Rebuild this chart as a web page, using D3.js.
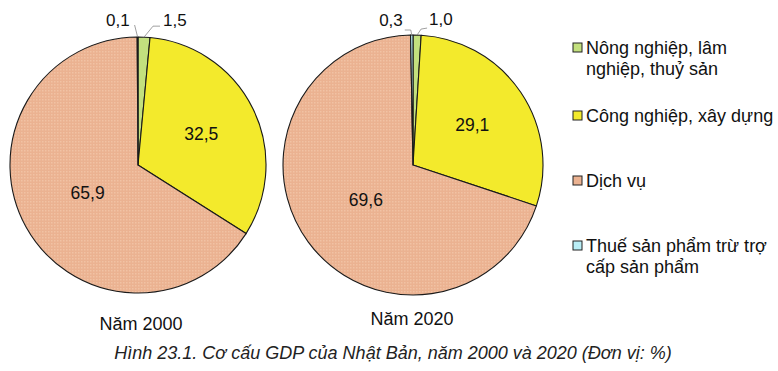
<!DOCTYPE html>
<html>
<head>
<meta charset="utf-8">
<script src="https://cdn.jsdelivr.net/npm/d3@7"></script>
<style>
  body { margin: 0; background: #fff; }
  svg { display: block; font-family: "Liberation Sans", Arial, sans-serif; }
</style>
</head>
<body>
<div id="chart"></div>
<script>
const categories = [
  ["Nông nghiệp, lâm", "nghiệp, thuỷ sản"],
  ["Công nghiệp, xây dựng"],
  ["Dịch vụ"],
  ["Thuế sản phẩm trừ trợ", "cấp sản phẩm"]
];
const years = ["Năm 2000", "Năm 2020"];
const values2000 = [1.5, 32.5, 65.9, 0.1];
const values2020 = [1.0, 29.1, 69.6, 0.3];
const caption = "Hình 23.1. Cơ cấu GDP của Nhật Bản, năm 2000 và 2020 (Đơn vị: %)";

const colors = ["#c3e07e", "#f3ea2c", "#ebb291", "#b9eef6"];
const fmt = v => d3.format(".1f")(v).replace(".", ",");

const width = 778, height = 371;

const svg = d3.select("#chart")
  .append("svg")
  .attr("width", width)
  .attr("height", height);

// halftone texture on the service slice
const defs = svg.append("defs");
const pat = defs.append("pattern")
  .attr("id", "dots")
  .attr("width", 3)
  .attr("height", 3)
  .attr("patternUnits", "userSpaceOnUse");
pat.append("rect").attr("width", 3).attr("height", 3).attr("fill", colors[2]);
pat.append("rect").attr("width", 1.5).attr("height", 1.5).attr("fill", "#f1c2a4");

const charts = [
  { values: values2000, cx: 138, cy: 165, r: 128, titleX: 141, titleY: 330 },
  { values: values2020, cx: 413, cy: 165, r: 130, titleX: 412, titleY: 325 }
];

const pie = d3.pie().sort(null).value(d => d);

charts.forEach((c, ci) => {
  const g = svg.append("g").attr("transform", `translate(${c.cx},${c.cy})`);
  const arcs = pie(c.values);
  const arc = d3.arc().innerRadius(0).outerRadius(c.r);

  g.selectAll("path")
    .data(arcs)
    .enter().append("path")
    .attr("d", arc)
    .attr("fill", (d, i) => i === 2 ? "url(#dots)" : colors[i])
    .attr("stroke", "#1a1a1a")
    .attr("stroke-width", 1.1)
    .attr("stroke-linejoin", "round");

  // big slice labels (the big slice gets its label nearer the centre)
  const labelPos = d => {
    const k = d.index === 2 ? 0.45 : 0.55;
    return d3.arc().innerRadius(c.r * k).outerRadius(c.r * k).centroid(d);
  };
  g.selectAll(".inner")
    .data(arcs.filter(d => d.value > 10))
    .enter().append("text")
    .attr("class", "inner")
    .attr("x", d => labelPos(d)[0])
    .attr("y", d => labelPos(d)[1])
    .attr("dy", "0.35em")
    .attr("text-anchor", "middle")
    .style("font-size", "17.5px")
    .style("fill", "#111")
    .text(d => fmt(d.value));

  // small slice labels with leader lines
  const green = arcs[0], blue = arcs[3];
  const edge = (a) => [Math.sin(a) * c.r, -Math.cos(a) * c.r];
  const gp = edge((green.startAngle + green.endAngle) / 2);
  const bp = edge((blue.startAngle + blue.endAngle) / 2);

  const line = d3.line();
  const leaders = ci === 0
    ? [
        { pts: [bp, [bp[0] - 3, bp[1] - 12]], tx: bp[0] - 8, ty: -c.r - 11, anchor: "end", v: blue.value },
        { pts: [gp, [gp[0] + 9, gp[1] - 11], [gp[0] + 16, gp[1] - 11]], tx: gp[0] + 19, ty: -c.r - 11, anchor: "start", v: green.value }
      ]
    : [
        { pts: [bp, [bp[0] - 1, bp[1] - 5], [bp[0] - 7, bp[1] - 5]], tx: bp[0] - 9, ty: -c.r - 9, anchor: "end", v: blue.value },
        { pts: [gp, [gp[0] + 4, gp[1] - 6], [gp[0] + 10, gp[1] - 7]], tx: gp[0] + 12, ty: -c.r - 10, anchor: "start", v: green.value }
      ];

  leaders.forEach(l => {
    g.append("path")
      .attr("d", line(l.pts))
      .attr("fill", "none")
      .attr("stroke", "#888")
      .attr("stroke-width", 0.8);
    g.append("text")
      .attr("x", l.tx)
      .attr("y", l.ty)
      .attr("text-anchor", l.anchor)
      .style("font-size", "17px")
      .style("fill", "#111")
      .text(fmt(l.v));
  });

  svg.append("text")
    .attr("x", c.titleX)
    .attr("y", c.titleY)
    .attr("text-anchor", "middle")
    .style("font-size", "18px")
    .style("fill", "#111")
    .text(years[ci]);
});

// legend
const legendY = [54, 122, 187, 252];
const legend = svg.append("g").attr("transform", "translate(573,0)");
categories.forEach((lines, i) => {
  const item = legend.append("g").attr("transform", `translate(0,${legendY[i]})`);
  item.append("rect")
    .attr("x", 0)
    .attr("y", -11)
    .attr("width", 9)
    .attr("height", 9)
    .attr("fill", colors[i])
    .attr("stroke", "#222")
    .attr("stroke-width", 1);
  item.selectAll("text")
    .data(lines)
    .enter().append("text")
    .attr("x", 13)
    .attr("y", (d, j) => j * 21)
    .style("font-size", "18px")
    .style("fill", "#111")
    .text(d => d);
});

svg.append("text")
  .attr("x", 393)
  .attr("y", 359)
  .attr("text-anchor", "middle")
  .style("font-size", "18px")
  .style("font-style", "italic")
  .style("fill", "#222")
  .text(caption);
</script>
</body>
</html>
